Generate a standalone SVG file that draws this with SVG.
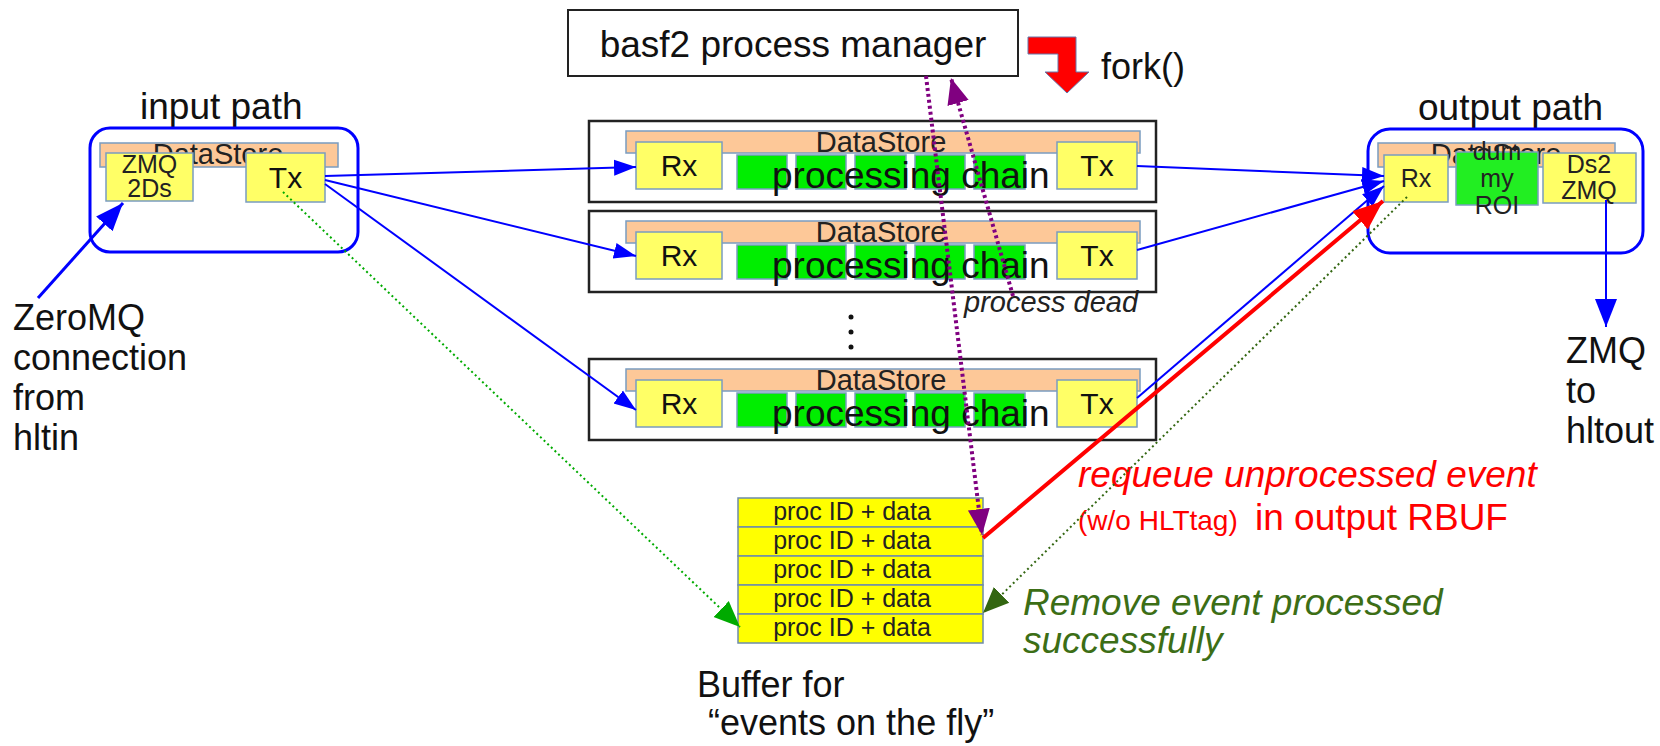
<svg xmlns="http://www.w3.org/2000/svg" width="1660" height="746" viewBox="0 0 1660 746">
<style>
text{font-family:"Liberation Sans",Arial,sans-serif;fill:#111}
.t37{font-size:37px}
.t36{font-size:36px}
.t30{font-size:30px;text-anchor:middle}
.t29{font-size:29px;text-anchor:middle;fill:#222}
.t25{font-size:25px;text-anchor:middle;fill:#222}
.pc{font-size:37px;fill:#111}
.row{fill:#fff;stroke:#222;stroke-width:2.5}
.ds{fill:#fdc898;stroke:#7a9cc0;stroke-width:1.5}
.yb{fill:#ffff66;stroke:#7a9cc0;stroke-width:1.5}
.gb{fill:#00ee00;stroke:#7a9cc0;stroke-width:1.5}
.buf{fill:#ffff00;stroke:#6e8cab;stroke-width:1.5}
.blue{fill:none;stroke:#0000ff;stroke-width:2}
.purp{fill:none;stroke:#800080;stroke-width:4;stroke-dasharray:3 3}
</style>
<defs>
<marker id="ab" markerUnits="userSpaceOnUse" markerWidth="24" markerHeight="18" refX="22" refY="9" orient="auto"><path d="M0,1 L22,9 L0,17 z" fill="#0000ff"/></marker>
<marker id="abL" markerUnits="userSpaceOnUse" markerWidth="30" markerHeight="24" refX="28" refY="12" orient="auto"><path d="M0,1 L28,12 L0,23 z" fill="#0000ff"/></marker>
<marker id="ar" markerUnits="userSpaceOnUse" markerWidth="32" markerHeight="26" refX="30" refY="13" orient="auto"><path d="M0,1 L30,13 L0,25 z" fill="#ff0000"/></marker>
<marker id="ap" markerUnits="userSpaceOnUse" markerWidth="28" markerHeight="24" refX="26" refY="12" orient="auto"><path d="M0,1 L26,12 L0,23 z" fill="#800080"/></marker>
<marker id="ag" markerUnits="userSpaceOnUse" markerWidth="28" markerHeight="24" refX="26" refY="12" orient="auto"><path d="M0,1 L26,12 L0,23 z" fill="#00aa00"/></marker>
<marker id="adg" markerUnits="userSpaceOnUse" markerWidth="28" markerHeight="24" refX="26" refY="12" orient="auto"><path d="M0,1 L26,12 L0,23 z" fill="#336611"/></marker>
</defs>
<rect width="1660" height="746" fill="#fff"/>

<g id="manager">
<rect x="568" y="10" width="450" height="66" fill="#fff" stroke="#222" stroke-width="2"/>
<text class="t37" x="793" y="57" text-anchor="middle">basf2 process manager</text>
</g>

<g id="fork">
<path d="M1028,37 L1076,37 L1076,72 L1089,72 L1067,93 L1045,72 L1058,72 L1058,54 L1028,54 Z" fill="#ff0000" stroke="#6677aa" stroke-width="1"/>
<text class="t36" x="1101" y="79">fork()</text>
</g>

<g id="input-path">
<text class="t37" x="140" y="119">input path</text>
<rect x="90" y="128" width="268" height="124" rx="20" fill="none" stroke="#0000ff" stroke-width="3"/>
<rect class="ds" x="100" y="143" width="238" height="24"/>
<text class="t29" x="218" y="164">DataStore</text>
<rect class="yb" x="106" y="153" width="87" height="48"/>
<text class="t25" x="149.5" y="173">ZMQ</text>
<text class="t25" x="149.5" y="197">2Ds</text>
<rect class="yb" x="246" y="153" width="79" height="49"/>
<text class="t30" x="285.5" y="188">Tx</text>
</g>

<g id="zeromq-label">
<text class="t36" x="13" y="330">ZeroMQ</text>
<text class="t36" x="13" y="370">connection</text>
<text class="t36" x="13" y="410">from</text>
<text class="t36" x="13" y="450">hltin</text>
</g>

<g id="chain1">
<rect class="row" x="589" y="121" width="567" height="81"/>
<rect class="ds" x="626" y="131" width="514" height="22"/>
<text class="t29" x="881" y="152">DataStore</text>
<rect class="yb" x="636" y="142" width="86" height="47"/>
<text class="t30" x="679" y="176">Rx</text>
<rect class="gb" x="737" y="155" width="50" height="34"/>
<rect class="gb" x="796" y="155" width="50" height="34"/>
<rect class="gb" x="855" y="155" width="51" height="34"/>
<rect class="gb" x="915" y="155" width="50" height="34"/>
<rect class="gb" x="974" y="155" width="51" height="34"/>
<rect class="yb" x="1057" y="142" width="80" height="47"/>
<text class="t30" x="1097" y="176">Tx</text>
<text class="pc" x="772" y="188">processing chain</text>
</g>

<g id="chain2">
<rect class="row" x="589" y="211" width="567" height="81"/>
<rect class="ds" x="626" y="221" width="514" height="22"/>
<text class="t29" x="881" y="242">DataStore</text>
<rect class="yb" x="636" y="232" width="86" height="47"/>
<text class="t30" x="679" y="266">Rx</text>
<rect class="gb" x="737" y="245" width="50" height="34"/>
<rect class="gb" x="796" y="245" width="50" height="34"/>
<rect class="gb" x="855" y="245" width="51" height="34"/>
<rect class="gb" x="915" y="245" width="50" height="34"/>
<rect class="gb" x="974" y="245" width="51" height="34"/>
<rect class="yb" x="1057" y="232" width="80" height="47"/>
<text class="t30" x="1097" y="266">Tx</text>
<text class="pc" x="772" y="278">processing chain</text>
</g>

<g id="ellipsis">
<circle cx="851" cy="317" r="2.5" fill="#111"/>
<circle cx="851" cy="332" r="2.5" fill="#111"/>
<circle cx="851" cy="347" r="2.5" fill="#111"/>
</g>

<g id="chain3">
<rect class="row" x="589" y="359" width="567" height="81"/>
<rect class="ds" x="626" y="369" width="514" height="22"/>
<text class="t29" x="881" y="390">DataStore</text>
<rect class="yb" x="636" y="380" width="86" height="47"/>
<text class="t30" x="679" y="414">Rx</text>
<rect class="gb" x="737" y="393" width="50" height="34"/>
<rect class="gb" x="796" y="393" width="50" height="34"/>
<rect class="gb" x="855" y="393" width="51" height="34"/>
<rect class="gb" x="915" y="393" width="50" height="34"/>
<rect class="gb" x="974" y="393" width="51" height="34"/>
<rect class="yb" x="1057" y="380" width="80" height="47"/>
<text class="t30" x="1097" y="414">Tx</text>
<text class="pc" x="772" y="426">processing chain</text>
</g>

<g id="output-path">
<text class="t37" x="1418" y="120">output path</text>
<rect x="1368" y="129" width="275" height="124" rx="22" fill="none" stroke="#0000ff" stroke-width="3"/>
<rect class="ds" x="1378" y="143" width="237" height="24"/>
<text class="t29" x="1496" y="164">DataStore</text>
<rect class="yb" x="1384" y="155" width="64" height="47"/>
<text class="t25" x="1416" y="187">Rx</text>
<rect x="1456" y="152" width="82" height="53" fill="#22ee22" stroke="#7a9cc0" stroke-width="1.5"/>
<text class="t25" x="1497" y="160">dum</text>
<text class="t25" x="1497" y="187">my</text>
<text class="t25" x="1497" y="214">ROI</text>
<rect class="yb" x="1543" y="153" width="93" height="50"/>
<text class="t25" x="1589" y="173">Ds2</text>
<text class="t25" x="1589" y="199">ZMQ</text>
</g>

<g id="hltout-label">
<text class="t36" x="1566" y="363">ZMQ</text>
<text class="t36" x="1566" y="403">to</text>
<text class="t36" x="1566" y="443">hltout</text>
</g>

<g id="buffer">
<rect class="buf" x="738" y="498" width="245" height="29"/>
<rect class="buf" x="738" y="527" width="245" height="29"/>
<rect class="buf" x="738" y="556" width="245" height="29"/>
<rect class="buf" x="738" y="585" width="245" height="29"/>
<rect class="buf" x="738" y="614" width="245" height="29"/>
<text class="t25" x="852" y="520">proc ID + data</text>
<text class="t25" x="852" y="549">proc ID + data</text>
<text class="t25" x="852" y="578">proc ID + data</text>
<text class="t25" x="852" y="607">proc ID + data</text>
<text class="t25" x="852" y="636">proc ID + data</text>
<text class="t36" x="697" y="697">Buffer for</text>
<text class="t36" x="708" y="735">“events on the fly”</text>
</g>

<g id="labels">
<text x="964" y="312" style="font-size:29px;font-style:italic;fill:#222">process dead</text>
<text x="1078" y="487" style="font-size:37px;font-style:italic;fill:#ff0000">requeue unprocessed event</text>
<text x="1078" y="530" style="font-size:28px;fill:#ff0000">(w/o HLTtag)</text>
<text x="1255" y="530" style="font-size:37px;fill:#ff0000">in output RBUF</text>
<text x="1023" y="615" style="font-size:37px;font-style:italic;fill:#3c6e16">Remove event processed</text>
<text x="1023" y="653" style="font-size:37px;font-style:italic;fill:#3c6e16">successfully</text>
</g>

<g id="connectors">
<line x1="38" y1="298" x2="123" y2="203" stroke="#0000ff" stroke-width="3" marker-end="url(#abL)"/>
<line class="blue" x1="325" y1="176" x2="636" y2="167" marker-end="url(#ab)"/>
<line class="blue" x1="325" y1="180" x2="636" y2="256" marker-end="url(#ab)"/>
<line class="blue" x1="325" y1="184" x2="636" y2="410" marker-end="url(#ab)"/>
<line class="blue" x1="1137" y1="166" x2="1384" y2="176" marker-end="url(#ab)"/>
<line class="blue" x1="1137" y1="250" x2="1384" y2="181" marker-end="url(#ab)"/>
<line class="blue" x1="1137" y1="398" x2="1384" y2="186" marker-end="url(#ab)"/>
<line class="blue" x1="1606" y1="200" x2="1606" y2="327" stroke-width="2.5" marker-end="url(#abL)"/>
<line x1="283" y1="192" x2="740" y2="627" stroke="#00aa00" stroke-width="2" stroke-dasharray="2 3" marker-end="url(#ag)"/>
<line x1="1407" y1="197" x2="983" y2="613" stroke="#336611" stroke-width="2" stroke-dasharray="2 3" marker-end="url(#adg)"/>
<line class="purp" x1="926" y1="76" x2="982" y2="535" marker-end="url(#ap)"/>
<line class="purp" x1="1013" y1="296" x2="951" y2="78" marker-end="url(#ap)"/>
<line x1="983" y1="538" x2="1383" y2="201" stroke="#ff0000" stroke-width="4" marker-end="url(#ar)"/>
</g>
</svg>
